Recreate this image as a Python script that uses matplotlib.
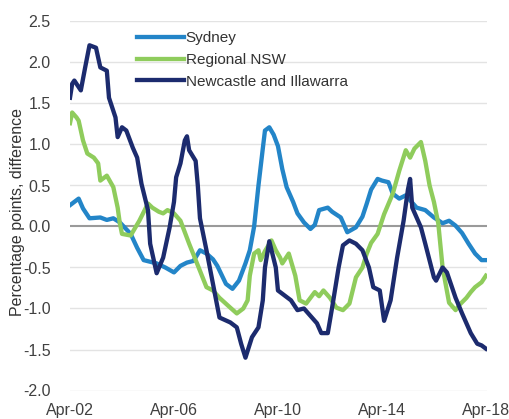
import matplotlib
matplotlib.use("Agg")
import matplotlib.pyplot as plt

# Months since Apr-2002 and values (percentage points)
syd_m = [0, 4, 6, 9, 14, 17, 20, 23, 28, 31, 34, 37, 40, 44, 48, 51, 54, 57, 60, 63, 66, 68,
         72, 75, 78, 81, 83, 85, 87, 89, 90, 92, 94, 96, 98, 100, 103, 105, 108, 111, 113, 115,
         119, 121, 125, 128, 132, 135, 137, 139, 142, 144, 147, 149, 152, 155, 157, 160, 164,
         168, 172, 175, 178, 181, 184, 187, 190, 192]
syd_v = [0.26, 0.34, 0.22, 0.10, 0.11, 0.08, 0.10, 0.05, -0.09, -0.26, -0.41, -0.43, -0.45,
         -0.50, -0.56, -0.48, -0.44, -0.42, -0.29, -0.33, -0.40, -0.48, -0.70, -0.76, -0.66,
         -0.45, -0.29, 0.00, 0.50, 0.95, 1.17, 1.21, 1.12, 0.98, 0.70, 0.48, 0.30, 0.16, 0.05,
         -0.03, 0.02, 0.20, 0.23, 0.18, 0.11, -0.07, -0.01, 0.12, 0.28, 0.45, 0.58, 0.56, 0.54,
         0.40, 0.34, 0.38, 0.32, 0.23, 0.20, 0.11, 0.04, 0.07, 0.01, -0.08, -0.21, -0.33, -0.41,
         -0.41]

reg_m = [0, 1, 3, 4, 6, 8, 11, 13, 14, 16, 17, 20, 22, 23, 24, 28, 30, 32, 36, 38, 41, 43, 45,
         48, 51, 55, 60, 63, 66, 69, 74, 77, 80, 82, 83, 85, 87, 88, 90, 93, 95, 97, 98, 101,
         104, 106, 109, 113, 115, 117, 120, 123, 126, 129, 132, 135, 137, 139, 142, 145, 149,
         152, 155, 157, 159, 162, 164, 166, 168, 170, 172, 175, 178, 180, 183, 185, 187, 190, 192]
reg_v = [1.26, 1.39, 1.33, 1.29, 1.05, 0.89, 0.84, 0.77, 0.56, 0.60, 0.62, 0.48, 0.23, 0.04,
         -0.09, -0.11, -0.02, 0.07, 0.28, 0.23, 0.18, 0.16, 0.20, 0.16, 0.07, -0.21, -0.54, -0.74,
         -0.78, -0.87, -0.99, -1.06, -1.00, -0.90, -0.60, -0.33, -0.29, -0.41, -0.30, -0.17,
         -0.29, -0.38, -0.45, -0.33, -0.60, -0.90, -0.94, -0.80, -0.85, -0.78, -0.87, -0.99,
         -1.02, -0.94, -0.62, -0.50, -0.33, -0.20, -0.09, 0.15, 0.40, 0.68, 0.93, 0.84, 0.95,
         1.03, 0.80, 0.50, 0.30, 0.04, -0.50, -0.93, -1.02, -0.95, -0.87, -0.80, -0.74, -0.68,
         -0.60]

nci_m = [0, 1, 2, 5, 7, 9, 12, 14, 17, 18, 21, 22, 24, 26, 29, 31, 33, 36, 37, 40, 43, 46, 48,
         49, 51, 53, 54, 55, 58, 59, 60, 63, 66, 69, 74, 77, 79, 81, 84, 87, 89, 90, 92, 95, 96,
         98, 102, 105, 108, 110, 114, 116, 119, 121, 124, 126, 129, 132, 135, 138, 140, 143, 145,
         148, 151, 154, 156, 157, 158, 162, 164, 168, 169, 172, 174, 178, 181, 185, 188, 190, 192]
nci_v = [1.57, 1.74, 1.78, 1.66, 1.94, 2.21, 2.18, 1.94, 1.90, 1.57, 1.33, 1.09, 1.21, 1.17,
         0.96, 0.84, 0.52, 0.20, -0.21, -0.57, -0.38, -0.01, 0.30, 0.60, 0.77, 1.05, 1.10, 0.93,
         0.80, 0.50, 0.10, -0.29, -0.70, -1.11, -1.17, -1.23, -1.43, -1.60, -1.35, -1.23, -0.90,
         -0.50, -0.18, -0.50, -0.78, -0.82, -0.90, -1.02, -1.00, -1.06, -1.18, -1.30, -1.30,
         -0.99, -0.50, -0.23, -0.17, -0.21, -0.29, -0.50, -0.74, -0.78, -1.15, -0.90, -0.38,
         0.07, 0.45, 0.58, 0.23, -0.01, -0.21, -0.62, -0.66, -0.50, -0.56, -0.87, -1.06, -1.30,
         -1.43, -1.45, -1.49]

tick_pos = [0, 48, 96, 144, 192]
tick_labels = ["Apr-02", "Apr-06", "Apr-10", "Apr-14", "Apr-18"]
y_ticks = [-2.0, -1.5, -1.0, -0.5, 0.0, 0.5, 1.0, 1.5, 2.0, 2.5]

plt.rcParams['font.family'] = ['Liberation Sans', 'DejaVu Sans']

fig = plt.figure(figsize=(5.10, 4.19), dpi=100)
ax = fig.add_axes([70/510, 1-390.5/419, 417/510, 369/419])

for y in y_ticks:
    if y == 0.0:
        ax.axhline(y, color='#9a9a9a', lw=1.5, zorder=1)
    else:
        ax.axhline(y, color='#e3e3e3', lw=1.0, zorder=0)

lw = 3.1
ax.plot(syd_m, syd_v, color='#2385c8', lw=lw, label='Sydney', zorder=3, solid_joinstyle='round')
ax.plot(reg_m, reg_v, color='#8fcc5c', lw=lw, label='Regional NSW', zorder=4, solid_joinstyle='round')
ax.plot(nci_m, nci_v, color='#1c2b6e', lw=lw, label='Newcastle and Illawarra', zorder=5, solid_joinstyle='round')

ax.set_xlim(0, 192.5)
ax.set_ylim(-2.0, 2.5)
ax.set_xticks(tick_pos)
ax.set_xticklabels(tick_labels)
ax.set_yticks(y_ticks)
ax.set_yticklabels([f"{v:.1f}" for v in y_ticks])
ax.tick_params(axis='both', length=0, labelsize=11.5, colors='#404040')
ax.tick_params(axis='y', pad=14)
ax.tick_params(axis='x', pad=9)
for s in ax.spines.values():
    s.set_visible(False)

fig.text(18/510, 1-212/419, 'Percentage points, difference', rotation=90,
         ha='center', va='center', fontsize=11.5, color='#333333')

leg = ax.legend(loc='upper left', bbox_to_anchor=(0.16, 0.973), frameon=False,
                fontsize=11, handlelength=3.1, handletextpad=0.1, labelspacing=0.5,
                borderpad=0, borderaxespad=0)
for t in leg.get_texts():
    t.set_color('#333333')

fig.savefig('out.png', dpi=100)
